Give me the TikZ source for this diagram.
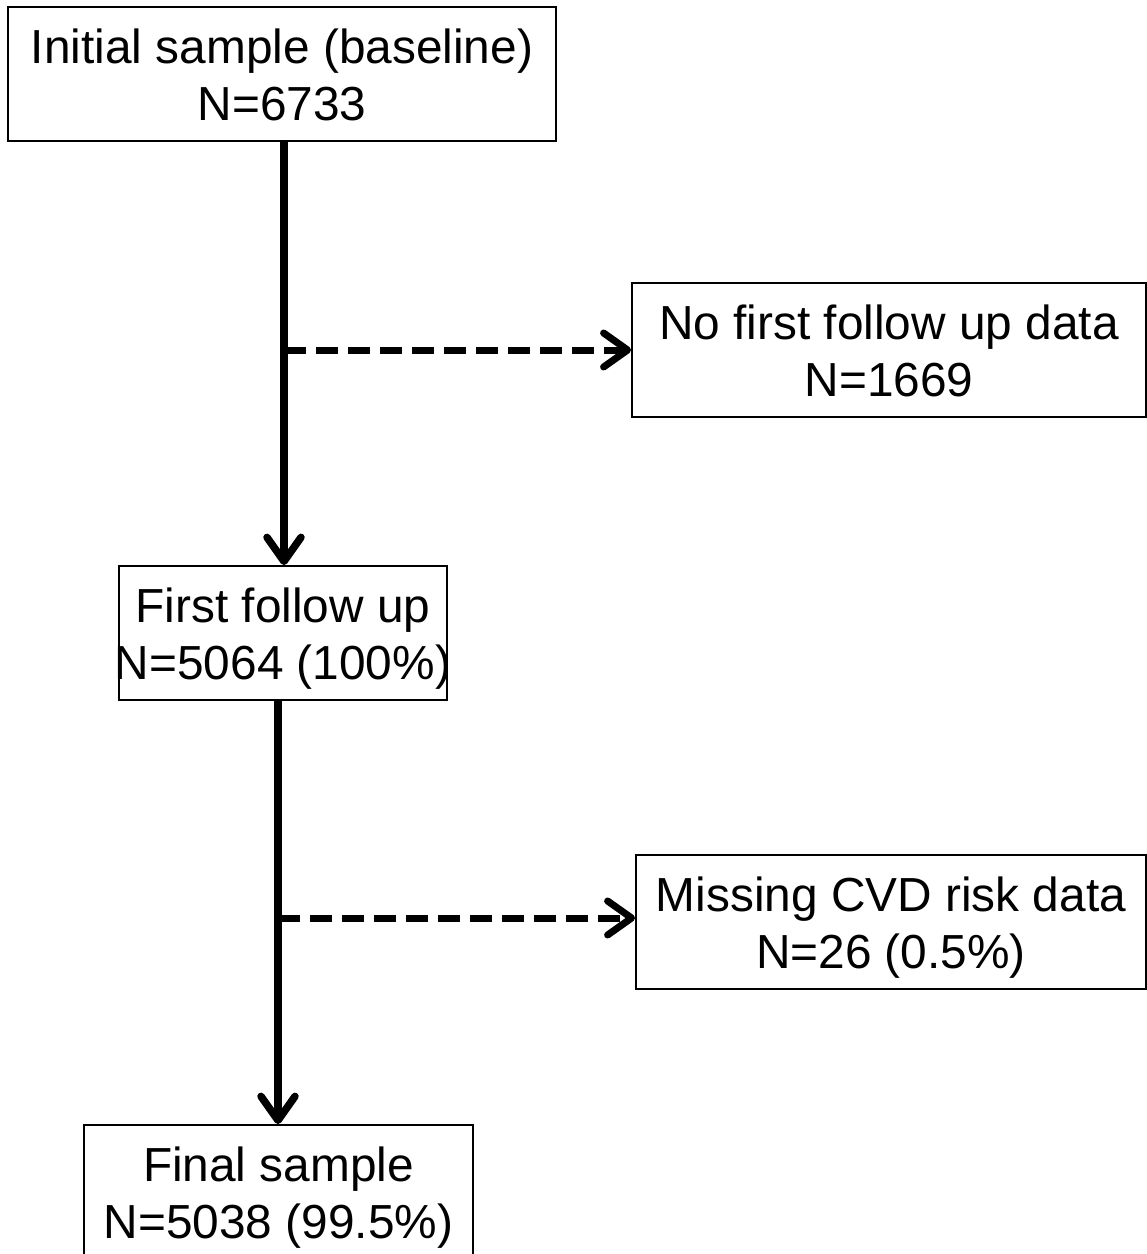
\documentclass[tikz,border=0pt]{standalone}
\usepackage{fontspec}
\setmainfont{Liberation Sans}
\usetikzlibrary{arrows.meta}
\begin{document}
\begin{tikzpicture}[x=1pt,y=-1pt,
  box/.style={draw=black,line width=1.8pt,fill=white,align=center,inner sep=0pt,
    minimum height=134pt,text height=93pt,text depth=0pt,
    font=\fontsize{47.8}{57}\selectfont},
  solidarrow/.style={line width=7.5pt,-{Straight Barb[length=24pt,width=34pt,line cap=round,line join=round]}},
  dasharrow/.style={line width=7pt,dash pattern=on 22pt off 10pt,
    -{Straight Barb[length=24pt,width=34pt,line cap=round,line join=round]}}]
\useasboundingbox (0,0) rectangle (1147,1254);
\clip (0,0) rectangle (1147,1254);
\node[box,minimum width=548pt] (top) at (282,74) {Initial sample (baseline)\\N=6733};
\node[box,minimum width=514pt] (nofirst) at (889,350) {No first follow up data\\N=1669};
\node[box,minimum width=328pt,inner xsep=-4pt] (ffu) at (283,633) {First follow up\\N=5064 (100\%)};
\node[box,minimum width=510pt] (missing) at (891,922) {Missing CVD risk data\\N=26 (0.5\%)};
\node[box,minimum width=389pt] (final) at (278.5,1192) {Final sample\\N=5038 (99.5\%)};
\coordinate (j1) at (284,350);
\coordinate (j2) at (278,918);
\draw[solidarrow] (top.south -| j1) -- (ffu.north -| j1);
\draw[dasharrow] (j1) -- (nofirst.west);
\draw[solidarrow] (ffu.south -| j2) -- (final.north -| j2);
\draw[dasharrow] (j2) -- (j2 -| missing.west);
\end{tikzpicture}
\end{document}
